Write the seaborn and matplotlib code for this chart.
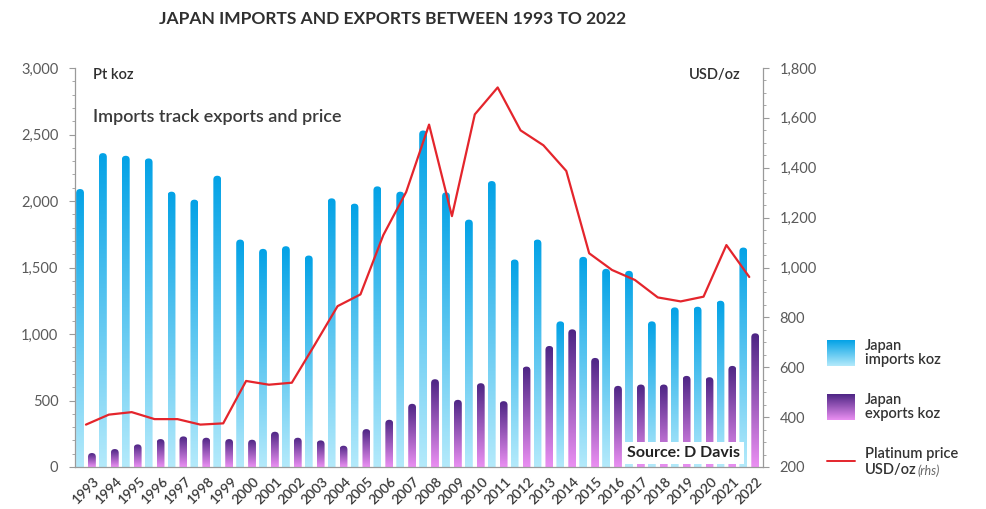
import numpy as np
import pandas as pd
import matplotlib
matplotlib.use("Agg")
import matplotlib.pyplot as plt
import matplotlib.transforms as mtransforms
import seaborn as sns
from matplotlib.colors import LinearSegmentedColormap
from matplotlib.patches import FancyBboxPatch
from matplotlib.ticker import MultipleLocator, FuncFormatter

# ---- data -------------------------------------------------------------
years = [str(y) for y in range(1993, 2023)]
imports_koz = [2090, 2360, 2340, 2320, 2070, 2010, 2190, 1710, 1640, 1660,
               1590, 2020, 1980, 2110, 2070, 2530, 2065, 1860, 2150, 1560,
               1710, 1095, 1580, 1490, 1475, 1095, 1200, 1205, 1250, 1650]
exports_koz = [105, 135, 170, 210, 230, 220, 210, 205, 265, 220,
               200, 160, 285, 355, 475, 660, 505, 630, 495, 755,
               910, 1035, 820, 610, 620, 620, 685, 675, 760, 1005]
platinum_usd = [370, 410, 420, 392, 392, 370, 375, 545, 530, 538,
                690, 845, 892, 1130, 1303, 1573, 1206, 1614, 1722, 1550,
                1490, 1387, 1057, 990, 950, 880, 864, 883, 1090, 962]
series_names = ["Japan imports koz", "Japan exports koz"]

# ---- styling ----------------------------------------------------------
sns.set_theme(style="ticks")
plt.rcParams["font.family"] = ["Lato", "DejaVu Sans"]

W, H = 987, 509
IMP_TOP, IMP_BOT = "#03a2e6", "#b4eafb"
EXP_TOP, EXP_BOT = "#4d2584", "#ea8ff2"
LINE_RED = "#e4252c"
AXIS_GREY = "#9a9a9a"
LABEL_GREY = "#5a5a5a"
TEXT_DARK = "#2f2f2f"

imp_cmap = LinearSegmentedColormap.from_list("imp", [IMP_BOT, IMP_TOP])
exp_cmap = LinearSegmentedColormap.from_list("exp", [EXP_BOT, EXP_TOP])
grad = np.linspace(0, 1, 256).reshape(-1, 1)


def fig_xy(x, y):
    return x / W, 1 - y / H


fig = plt.figure(figsize=(W / 100, H / 100), dpi=100)
fig.patch.set_facecolor("white")
ax = fig.add_axes([75 / W, 1 - 467 / H, (763 - 75) / W, (467 - 68) / H])
ax.set_facecolor("none")

df = pd.DataFrame({
    "year": years * 2,
    "koz": imports_koz + exports_koz,
    "series": [series_names[0]] * len(years) + [series_names[1]] * len(years),
})
sns.barplot(data=df, x="year", y="koz", hue="series", hue_order=series_names,
            palette=[IMP_TOP, EXP_TOP], saturation=1, width=1.04, gap=0.34,
            legend=False, errorbar=None, ax=ax)

XLIM = (-0.48, 29.6)
ax.set_xlim(*XLIM)
ax.set_ylim(0, 3000)

# replace flat bars with gradient-filled, round-topped bars
p0 = ax.transData.transform((0, 0))
p1 = ax.transData.transform((1, 1))
aspect = (p1[0] - p0[0]) / (p1[1] - p0[1])
bars = [p for p in ax.patches]
for p in bars:
    x0, w, h = p.get_x(), p.get_width(), p.get_height()
    centre = x0 + w / 2
    # imports sit left of the category centre, exports to the right
    cmap = imp_cmap if centre < round(centre) else exp_cmap
    shape = FancyBboxPatch((x0, -400), w, h + 400,
                           boxstyle=f"round,pad=0,rounding_size={w / 2}",
                           mutation_aspect=aspect, fc="none", ec="none",
                           transform=ax.transData)
    ax.add_patch(shape)
    im = ax.imshow(grad, extent=[x0, x0 + w, 0, h], origin="lower",
                   aspect="auto", cmap=cmap, interpolation="bicubic", zorder=2)
    im.set_clip_path(shape)
    p.set_visible(False)

# platinum price on the right-hand axis
ax2 = ax.twinx()
sns.lineplot(x=np.arange(len(years)), y=platinum_usd, ax=ax2,
             color=LINE_RED, linewidth=1.6, zorder=5)
ax2.set_ylim(200, 1800)
ax.set_xlim(*XLIM)
ax.set_ylim(0, 3000)

# axes, ticks and labels
for a in (ax, ax2):
    a.spines["top"].set_visible(False)
    for s in a.spines.values():
        s.set_color(AXIS_GREY)
        s.set_linewidth(0.9)
ax.spines["right"].set_visible(False)
ax2.spines["left"].set_visible(False)
ax2.spines["bottom"].set_visible(False)

ax.yaxis.set_major_locator(MultipleLocator(500))
ax.yaxis.set_minor_locator(MultipleLocator(100))
ax.yaxis.set_major_formatter(FuncFormatter(lambda v, _: f"{int(v):,}"))
ax2.yaxis.set_major_locator(MultipleLocator(200))
ax2.yaxis.set_minor_locator(MultipleLocator(50))
ax2.yaxis.set_major_formatter(FuncFormatter(lambda v, _: f"{int(v):,}"))

ax.tick_params(axis="y", which="major", length=4, width=0.8, color=AXIS_GREY,
               labelsize=10.5, labelcolor=LABEL_GREY, pad=8)
ax.tick_params(axis="y", which="minor", length=2, width=0.6, color=AXIS_GREY)
ax2.tick_params(axis="y", which="major", length=4, width=0.8, color=AXIS_GREY,
                labelsize=10.5, labelcolor=LABEL_GREY, pad=8)
ax2.tick_params(axis="y", which="minor", length=2, width=0.6, color=AXIS_GREY)
ax2.set_ylabel("")
ax.set_ylabel("")
ax.set_xlabel("")

ax.set_xticks(range(len(years)))
ax.set_xticklabels(years, rotation=45, ha="right", va="top",
                   rotation_mode="anchor", fontsize=10, fontweight="semibold",
                   color="#3a3a3a")
ax.tick_params(axis="x", length=0, pad=6)
shift = mtransforms.ScaledTranslation(0.07, 0, fig.dpi_scale_trans)
for lab in ax.get_xticklabels():
    lab.set_transform(lab.get_transform() + shift)

# ---- annotations ------------------------------------------------------
fig.text(*fig_xy(393, 19), "JAPAN IMPORTS AND EXPORTS BETWEEN 1993 TO 2022",
         ha="center", va="center", fontsize=12.5, fontweight="bold",
         color=TEXT_DARK)
fig.text(*fig_xy(93, 75), "Pt koz", ha="left", va="center", fontsize=10.5,
         fontweight="semibold", color=TEXT_DARK)
fig.text(*fig_xy(741, 75), "USD/oz", ha="right", va="center", fontsize=10.5,
         fontweight="semibold", color=TEXT_DARK)
fig.text(*fig_xy(93, 117), "Imports track exports and price", ha="left",
         va="center", fontsize=13, fontweight="semibold", color="#3a3a3a")
fig.text(*fig_xy(684, 453), "Source: D Davis", ha="center", va="center",
         fontsize=11.5, fontweight="bold", color="#222222", zorder=10,
         bbox=dict(boxstyle="square,pad=0.25", fc="white", ec="none"))

# ---- legend -----------------------------------------------------------
leg = fig.add_axes([0, 0, 1, 1])
leg.set_axis_off()
leg.patch.set_visible(False)
leg.imshow(grad, extent=[827, 855, 366, 340], origin="upper", aspect="auto",
           cmap=imp_cmap.reversed(), interpolation="bicubic")
leg.imshow(grad, extent=[827, 855, 420, 394], origin="upper", aspect="auto",
           cmap=exp_cmap.reversed(), interpolation="bicubic")
leg.plot([827, 855], [461, 461], color=LINE_RED, linewidth=1.4)
leg.set_xlim(0, W)
leg.set_ylim(H, 0)

leg_font = dict(ha="left", va="center", fontsize=10.5, fontweight="semibold",
                color="#333333", linespacing=1.0)
leg.text(865, 353, "Japan\nimports koz", **leg_font)
leg.text(865, 407, "Japan\nexports koz", **leg_font)
leg.text(865, 454, "Platinum price", **leg_font)
leg.text(865, 470, "USD/oz", **leg_font)
leg.text(917, 471, "(rhs)", ha="left", va="center", fontsize=9,
         style="italic", color="#666666")

fig.savefig("out.png", dpi=100)
